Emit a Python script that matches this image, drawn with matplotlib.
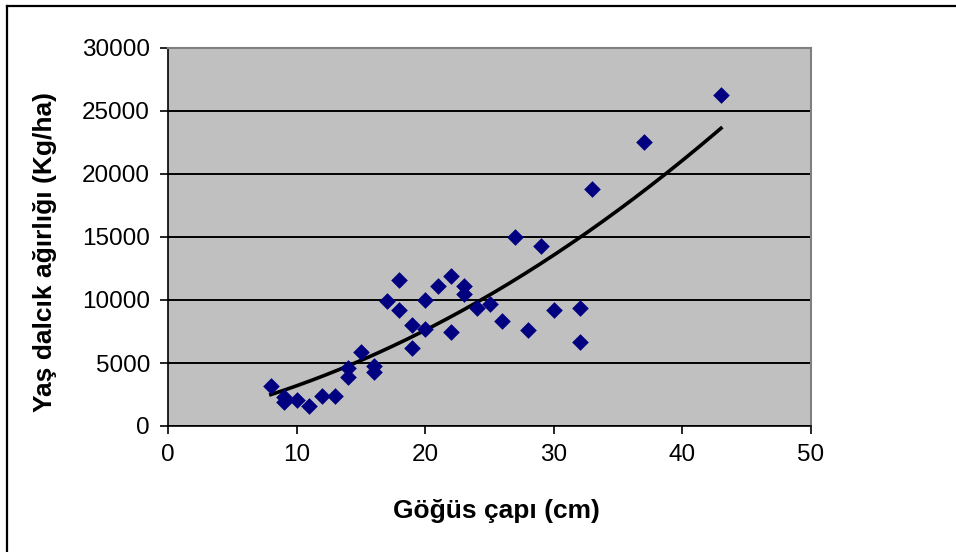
import matplotlib.pyplot as plt
import numpy as np
from matplotlib.lines import Line2D

# Göğüs çapı (cm) vs. yaş dalcık ağırlığı (Kg/ha)
cap = [8, 9, 9, 10, 11, 12, 13, 14, 14, 15, 16, 16, 17, 18, 18, 19, 19,
       20, 20, 21, 22, 22, 23, 23, 24, 25, 26, 27, 28, 29, 30, 32, 32,
       33, 37, 43]
agirlik = [3200, 2300, 1900, 2100, 1600, 2400, 2400, 3900, 4600, 5900,
           4800, 4300, 9900, 11600, 9200, 8000, 6200, 10000, 7700, 11100,
           11900, 7500, 11100, 10500, 9400, 9700, 8300, 15000, 7600, 14300,
           9200, 9400, 6700, 18800, 22500, 26300]

plt.rcParams['font.family'] = ['Liberation Sans', 'DejaVu Sans']

fig = plt.figure(figsize=(9.56, 5.52), dpi=100)
ax = fig.add_axes([168/956, 1-426/552, (811-168)/956, (426-48)/552])
ax.set_facecolor('#C0C0C0')

# 2. derece polinom trend çizgisi
coef = np.polyfit(cap, agirlik, 2)
xs = np.linspace(min(cap), max(cap), 200)
ax.plot(xs, np.polyval(coef, xs), color='black', lw=2.6, zorder=3)

ax.scatter(cap, agirlik, marker='D', s=72, color='#000080', zorder=4,
           linewidths=0)

ax.set_xlim(0, 50)
ax.set_ylim(0, 30000)
ax.set_xticks(range(0, 51, 10))
ax.set_yticks(range(0, 30001, 5000))
ax.yaxis.grid(True, color='black', lw=1.4)
ax.set_axisbelow(True)

for s in ['top', 'right']:
    ax.spines[s].set_color('#808080')
    ax.spines[s].set_linewidth(1.5)
for s in ['left', 'bottom']:
    ax.spines[s].set_color('black')
    ax.spines[s].set_linewidth(1.2)

ax.tick_params(direction='out', length=6, width=1.2, labelsize=17.5, pad=7)

ax.set_xlabel('Göğüs çapı (cm)', fontsize=19, fontweight='bold', labelpad=24)
ax.set_ylabel('Yaş dalcık ağırlığı (Kg/ha)', fontsize=19, fontweight='bold',
              labelpad=18)
ax.xaxis.label.set_x(0.511)
ax.yaxis.label.set_y(0.46)

# grafik çerçevesi
fig.add_artist(Line2D([7/956, 1], [1-6/552, 1-6/552], color='black', lw=1.6))
fig.add_artist(Line2D([7/956, 7/956], [0, 1-6/552], color='black', lw=1.6))

plt.savefig('out.png', dpi=100)
